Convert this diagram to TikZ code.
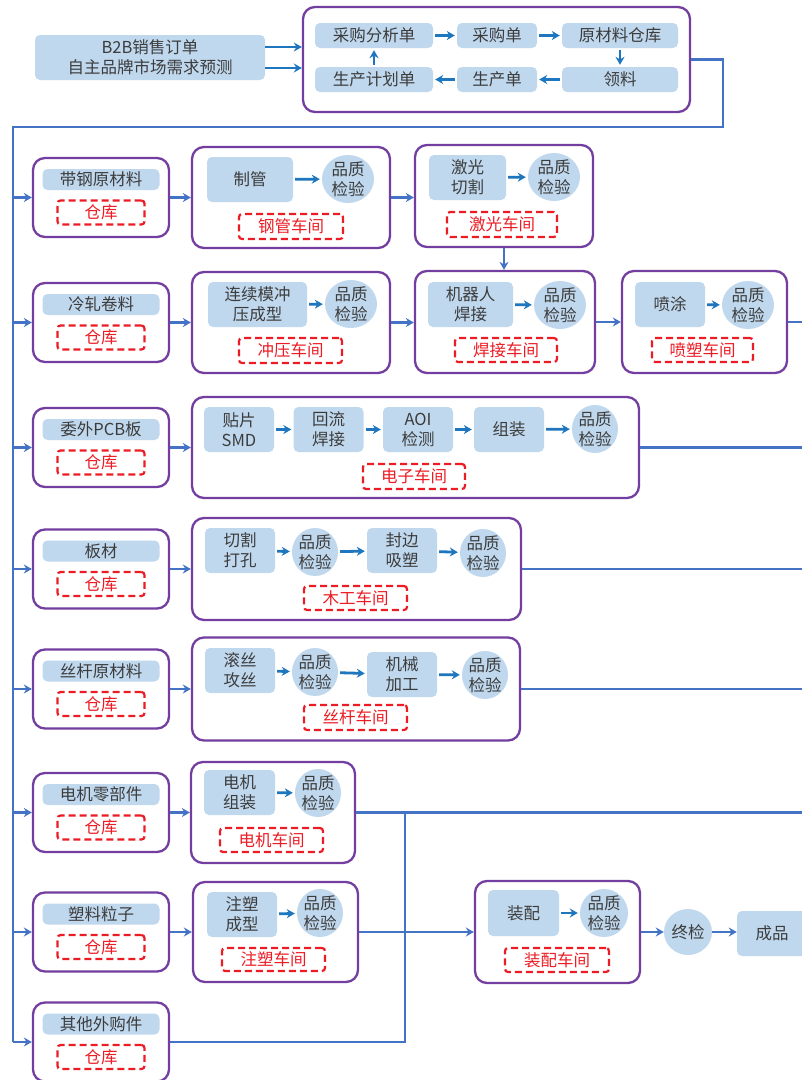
\documentclass[tikz,border=0pt]{standalone}
\usepackage{fontspec}
\setmainfont{Noto Sans CJK SC}
\usetikzlibrary{shapes.geometric,arrows.meta}
\definecolor{purp}{RGB}{115,62,160}
\definecolor{lblue}{RGB}{192,216,238}
\definecolor{lnblue}{RGB}{68,114,196}
\definecolor{arblue}{RGB}{30,118,190}
\definecolor{txgray}{RGB}{60,60,60}
\definecolor{rd}{RGB}{236,28,36}
\tikzset{
  sz/.style 2 args={minimum width=#1pt,minimum height=#2pt},
  ws/.style={draw=purp,line width=2.3pt,rounded corners=12pt,fill=white,inner sep=0pt},
  lb/.style={fill=lblue,rounded corners=5pt,inner sep=0pt,align=center,text=txgray},
  qc/.style={ellipse,fill=lblue,inner xsep=-3pt,inner ysep=-3pt,align=center,text=txgray,minimum width=52pt,minimum height=48pt},
  redbox/.style={draw=rd,dash pattern=on 7pt off 4pt,line width=2.2pt,rounded corners=3pt,inner sep=0pt,text=rd},
  trunk/.style={draw=lnblue,line width=2.8pt},
  arr/.style={draw=arblue,line width=2.8pt,->,shorten <=2pt,shorten >=2pt},
}
\begin{document}
\begin{tikzpicture}[x=1pt,y=-1pt,>={Stealth[length=8pt,width=9pt]},font=\fontsize{16.5}{20}\selectfont]
\useasboundingbox (0,0) rectangle (802,1080);
\clip (0,0) rectangle (802,1080);
\fill[white] (0,0) rectangle (802,1080);

% planning
\node[lb,sz={230}{45}] (dd) at (150,57.5) {B2B销售订单\\自主品牌市场需求预测};
\node[ws,sz={387}{105}] (plan) at (496.5,59.5) {};
\node[lb,sz={118}{25}] (fxd) at (374,35.5) {采购分析单};
\node[lb,sz={80}{25}] (cgd) at (497,35.5) {采购单};
\node[lb,sz={116}{25}] (ck) at (620,35.5) {原材料仓库};
\node[lb,sz={116}{25}] (ll) at (620,79.5) {领料};
\node[lb,sz={80}{25}] (scd) at (497,79.5) {生产单};
\node[lb,sz={118}{25}] (jhd) at (374,79.5) {生产计划单};
\draw[arr] (fxd) -- (cgd);
\draw[arr] (cgd) -- (ck);
\draw[arr] (ck) -- (ll);
\draw[arr] (ll) -- (scd);
\draw[arr] (scd) -- (jhd);
\draw[arr] (jhd) -- (fxd);
\draw[arr,shorten <=0pt,shorten >=0pt] ([yshift=10.5pt]dd.east) -- ([yshift=10.5pt]dd.east -| plan.west);
\draw[arr,shorten <=0pt,shorten >=0pt] ([yshift=-10.5pt]dd.east) -- ([yshift=-10.5pt]dd.east -| plan.west);

% raw materials
\foreach \y/\nm/\txt in {197.5/m1/带钢原材料,322.5/m2/冷轧卷料,447.5/m3/委外PCB板,569/m4/板材,689/m5/丝杆原材料,812.5/m6/电机零部件,932/m7/塑料粒子,1042/m8/其他外购件}{
  \coordinate (t-\nm) at (13,\y);
  \node[ws,sz={136}{79}] (\nm) at (101,\y) {};
  \node[lb,sz={117}{21}] (\nm-l) at (101,\y-18) {\txt};
  \node[redbox,sz={87}{24}] (\nm-c) at (101,\y+15) {仓库};
  \draw[trunk,->] (t-\nm) -- (\nm);
}
\coordinate (c2) at (723,127);
\coordinate (c3) at (13,127);
\draw[trunk] (plan.east) -| (c2) -- (c3) -- (t-m8);

% steel tube
\node[ws,sz={198}{101}] (w1) at (291,197.5) {};
\node[lb,sz={86}{45}] (w1a) at (250,179.5) {制管};
\node[qc] (w1q) at (348,179) {品质\\检验};
\node[redbox,sz={104}{25}] (w1r) at (291,226.5) {钢管车间};
\draw[arr] (w1a) -- (w1q);
% laser
\node[ws,sz={178}{102}] (w2) at (504,196) {};
\node[lb,sz={77}{45}] (w2a) at (467.5,177.5) {激光\\切割};
\node[qc] (w2q) at (554,177) {品质\\检验};
\node[redbox,sz={110}{25}] (w2r) at (502,224.5) {激光车间};
\draw[arr] (w2a) -- (w2q);
% stamping
\node[ws,sz={198}{101}] (w3) at (291,322.5) {};
\node[lb,sz={99}{45}] (w3a) at (257.5,304.5) {连续模冲\\压成型};
\node[qc] (w3q) at (351,304) {品质\\检验};
\node[redbox,sz={103}{25}] (w3r) at (290.5,350.5) {冲压车间};
\draw[arr] (w3a) -- (w3q);
% welding
\node[ws,sz={180}{102}] (w4) at (505,322) {};
\node[lb,sz={85}{45}] (w4a) at (470.5,304.5) {机器人\\焊接};
\node[qc] (w4q) at (560,305) {品质\\检验};
\node[redbox,sz={102}{24}] (w4r) at (506,350) {焊接车间};
\draw[arr] (w4a) -- (w4q);
% spraying
\node[ws,sz={165}{102}] (w5) at (704.5,322) {};
\node[lb,sz={70}{45}] (w5a) at (670,304.5) {喷涂};
\node[qc] (w5q) at (748,305) {品质\\检验};
\node[redbox,sz={101}{24}] (w5r) at (702.5,350) {喷塑车间};
\draw[arr] (w5a) -- (w5q);
% electronics
\node[ws,sz={447}{101}] (w6) at (415.5,447.5) {};
\node[lb,sz={70}{45}] (w6a) at (239,429.5) {贴片\\SMD};
\node[lb,sz={70}{45}] (w6b) at (328.5,429.5) {回流\\焊接};
\node[lb,sz={70}{45}] (w6c) at (418,429.5) {AOI\\检测};
\node[lb,sz={70}{45}] (w6d) at (509,429.5) {组装};
\node[qc,minimum width=46pt] (w6q) at (595,429) {品质\\检验};
\node[redbox,sz={102}{25}] (w6r) at (414,476.5) {电子车间};
\draw[arr] (w6a) -- (w6b);
\draw[arr] (w6b) -- (w6c);
\draw[arr] (w6c) -- (w6d);
\draw[arr] (w6d) -- (w6q);
% woodwork
\node[ws,sz={329}{102}] (w7) at (356.5,569) {};
\node[lb,sz={70}{45}] (w7a) at (240,550.5) {切割\\打孔};
\node[qc,minimum width=46pt] (w7q) at (315,552) {品质\\检验};
\node[lb,sz={70}{45}] (w7b) at (402,550.5) {封边\\吸塑};
\node[qc,minimum width=46pt] (w7p) at (483,553) {品质\\检验};
\node[redbox,sz={103}{24}] (w7r) at (355.5,598) {木工车间};
\draw[arr] (w7a) -- (w7q);
\draw[arr] (w7q) -- (w7b);
\draw[arr] (w7b) -- (w7p);
% lead screw
\node[ws,sz={328}{103}] (w8) at (356,689) {};
\node[lb,sz={70}{45}] (w8a) at (240,670.5) {滚丝\\攻丝};
\node[qc,minimum width=46pt] (w8q) at (315,672) {品质\\检验};
\node[lb,sz={70}{45}] (w8b) at (402,674.5) {机械\\加工};
\node[qc,minimum width=46pt] (w8p) at (485,675) {品质\\检验};
\node[redbox,sz={103}{25}] (w8r) at (355.5,717.5) {丝杆车间};
\draw[arr] (w8a) -- (w8q);
\draw[arr] (w8q) -- (w8b);
\draw[arr] (w8b) -- (w8p);
% motor
\node[ws,sz={164}{101}] (w9) at (273,812.5) {};
\node[lb,sz={71}{45}] (w9a) at (239.5,792.5) {电机\\组装};
\node[qc,minimum width=46pt] (w9q) at (318,793) {品质\\检验};
\node[redbox,sz={103}{24}] (w9r) at (271.5,840) {电机车间};
\draw[arr] (w9a) -- (w9q);
% injection
\node[ws,sz={165}{100}] (w10) at (275.5,932) {};
\node[lb,sz={70}{45}] (w10a) at (242,914.5) {注塑\\成型};
\node[qc,minimum width=46pt] (w10q) at (320,913) {品质\\检验};
\node[redbox,sz={103}{23}] (w10r) at (273.5,959.5) {注塑车间};
\draw[arr] (w10a) -- (w10q);
% assembly
\node[ws,sz={165}{102}] (w11) at (557.5,932) {};
\node[lb,sz={71}{46}] (w11a) at (523.5,913) {装配};
\node[qc,minimum width=48pt] (w11q) at (604,913) {品质\\检验};
\node[redbox,sz={104}{24}] (w11r) at (557,960) {装配车间};
\draw[arr] (w11a) -- (w11q);
\node[qc,sz={48}{46}] (zj) at (688,932) {终检};
\node[lb,sz={70}{45}] (cp) at (772,933.5) {成品};

% flows
\draw[trunk,->] (m1) -- (w1);
\draw[trunk,->] (m2) -- (w3);
\draw[trunk,->] (m3) -- (w6);
\draw[trunk,->] (m4) -- (w7);
\draw[trunk,->] (m5) -- (w8);
\draw[trunk,->] (m6) -- (w9);
\draw[trunk,->] (m7) -- (w10);
\draw[trunk,->] (w1.east) -- (w1.east -| w2.west);
\draw[trunk,->] (w2.south) -- (w2.south |- w4.north);
\draw[trunk,->] (w3.east) -- (w3.east -| w4.west);
\draw[trunk,->] (w4) -- (w5);
\coordinate (e5) at (802,322);
\coordinate (e6) at (802,447.5);
\coordinate (e7) at (802,569);
\coordinate (e8) at (802,689);
\coordinate (e9) at (802,812.5);
\draw[trunk] (w5) -- (e5);
\draw[trunk] (w6) -- (e6);
\draw[trunk] (w7) -- (e7);
\draw[trunk] (w8) -- (e8);
\draw[trunk] (w9) -- (e9);
\coordinate (j1) at (405,812.5);
\coordinate (j2) at (405,1042);
\draw[trunk] (j1) -- (j2) -- (m8);
\draw[trunk,->] (w10) -- (w11);
\draw[trunk,->] (w11) -- (zj);
\draw[trunk,->] (zj) -- (zj -| cp.west);
\end{tikzpicture}
\end{document}
